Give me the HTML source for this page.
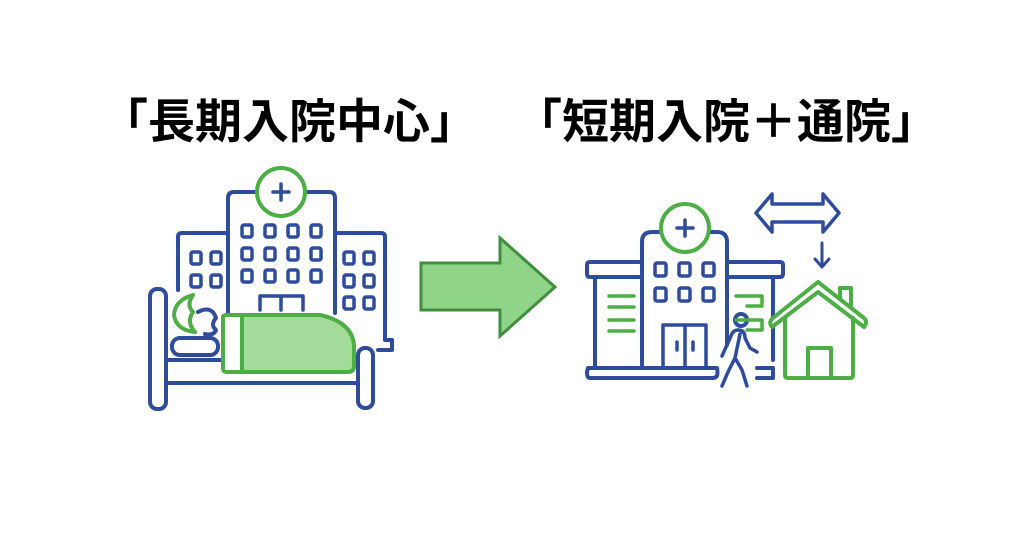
<!DOCTYPE html>
<html><head><meta charset="utf-8"><style>
html,body{margin:0;padding:0;background:#fff;width:1024px;height:536px;overflow:hidden}
.t{position:absolute;font-family:"Liberation Sans","Noto Sans CJK JP",sans-serif;font-weight:bold;font-size:47px;line-height:1;color:#000;white-space:nowrap}
</style></head><body>
<div class="t" style="left:101px;top:98px;">「長期入院中心」</div>
<div class="t" style="left:515px;top:98px;">「短期入院＋通院」</div>
<svg width="1024" height="536" style="position:absolute;left:0;top:0" fill="none" stroke-linecap="round" stroke-linejoin="round">
<g stroke="#2f4b9b" stroke-width="4">
 <!-- left hospital -->
 <path d="M228 313 V198 Q228 192 234 192 H256 M306 192 H329 Q335 192 335 198 V313"/>
 <path d="M178 290 V237 Q178 233 182 233 H228 M335 233 H381 Q385 233 385 237 V340 H392 V350 H378"/>
 <g stroke-width="3.5">
 <rect x="242" y="225" width="10" height="12" rx="2"/><rect x="265" y="225" width="10" height="12" rx="2"/><rect x="288" y="225" width="10" height="12" rx="2"/><rect x="311" y="225" width="10" height="12" rx="2"/>
 <rect x="242" y="248" width="10" height="12" rx="2"/><rect x="265" y="248" width="10" height="12" rx="2"/><rect x="288" y="248" width="10" height="12" rx="2"/><rect x="311" y="248" width="10" height="12" rx="2"/>
 <rect x="242" y="270" width="10" height="12" rx="2"/><rect x="265" y="270" width="10" height="12" rx="2"/><rect x="288" y="270" width="10" height="12" rx="2"/><rect x="311" y="270" width="10" height="12" rx="2"/>
 <rect x="191" y="252" width="10" height="12" rx="2"/><rect x="211" y="252" width="10" height="12" rx="2"/>
 <rect x="191" y="275" width="10" height="12" rx="2"/><rect x="211" y="275" width="10" height="12" rx="2"/>
 <rect x="344" y="252" width="10" height="12" rx="2"/><rect x="364" y="252" width="10" height="12" rx="2"/>
 <rect x="344" y="275" width="10" height="12" rx="2"/><rect x="364" y="275" width="10" height="12" rx="2"/>
 <rect x="344" y="297" width="10" height="12" rx="2"/><rect x="364" y="297" width="10" height="12" rx="2"/>
 <path d="M260 310 V296 H303 V310 M281 296 V310"/>
 </g>
 <!-- bed -->
 <rect x="150" y="289" width="16" height="120" rx="7" fill="#fff"/>
 <rect x="358" y="348" width="15" height="60" rx="7" fill="#fff"/>
 <path d="M166 360 H358 M166 383 H358"/>
 <rect x="172" y="338" width="46" height="17" rx="8" fill="#fff"/>
 <path d="M198 312 Q212 305 216 318 Q210 325 216 330 Q214 336 205 334"/>
</g>
<g stroke="#4cae45" stroke-width="4">
 <circle cx="281" cy="192" r="24" fill="#fff"/>
 <path d="M223 318 Q223 315 226 315 H320 Q352 322 354 345 V366 Q354 372 348 372 H227 Q223 372 223 368 Z" fill="#a3dc9a"/>
 <rect x="225" y="317" width="16" height="53" fill="#fff" stroke="none"/>
 <path d="M242 316 V371"/>
 <path d="M193 295 Q175 300 174 315 Q176 330 195 332 Q186 322 193 312 Q186 305 193 295"/>
</g>
<!-- arrow -->
<path d="M421 263 H500 V238 L555 287 L500 336 V310 H421 Z" fill="#8fd488" stroke="#3f8f3c" stroke-width="3" stroke-linejoin="miter"/>
<!-- right -->
<g stroke="#2f4b9b" stroke-width="4">
 <path d="M642 367 V242 Q642 232 652 232 H661 M709 232 H717 Q727 232 727 242 V345"/>
 <path d="M642 262 H590 Q587 262 587 265 V274 Q587 277 590 277 H642 M727 262 H780 Q783 262 783 265 V274 Q783 277 780 277 H727"/>
 <path d="M642 277 H595 V367 M773 277 V360"/>
 <path d="M588 368 H717 Q719 378 713 378 H590 Q587 378 587 372 Z"/>
 <path d="M757 368 H773 V378 H757"/>
 <g stroke-width="3.5">
 <rect x="655" y="263" width="11" height="13" rx="2"/><rect x="679" y="263" width="11" height="13" rx="2"/><rect x="703" y="263" width="11" height="13" rx="2"/>
 <rect x="655" y="288" width="11" height="13" rx="2"/><rect x="679" y="288" width="11" height="13" rx="2"/><rect x="703" y="288" width="11" height="13" rx="2"/>
 <path d="M663 367 V325 H706 V367 M685 325 V367 M677 342 V350 M693 342 V350"/>
 </g>
 <!-- walker -->
 <circle cx="741" cy="320" r="6" fill="#fff"/>
 <path d="M738 330 Q733 330 731 336 L722 356 M738 330 Q745 330 745 338 L750 348 L757 352 M740 334 L735 358 L728 372 L722 386 M735 358 L742 370 L747 386" stroke-width="3.5"/>
 <!-- double arrow -->
 <path d="M772 194 L756 213 L772 232 V222 H823 V232 L839 213 L823 194 V204 H772 Z" stroke-width="3.5"/>
 <path d="M822 243 V266 M815 259 L822 267 L829 259" stroke-width="3"/>
</g>
<g stroke="#4cae45" stroke-width="4">
 <circle cx="685" cy="228" r="24" fill="#fff"/>
 <path d="M609 296 H634 M609 307 H634 M609 320 H634 M609 331 H634" stroke-width="3.5"/>
 <path d="M736 296 H762 V304 M747 306 H762 M736 320 H762 V330 M747 330 H762" stroke-width="3.5"/>
 <path d="M772 327 Q768 322 773 318 L818 282 L864 318 Q868 322 864 327 L818 292 Z" fill="#fff"/>
 <path d="M785 318 V375 Q785 378 788 378 H850 Q853 378 853 375 V318"/>
 <path d="M840 299 V288 H851 V307"/>
 <path d="M808 378 V348 H831 V378"/>
</g>
<g stroke="#2f4b9b" stroke-width="3.5"><path d="M273 192 H289 M281 184 V200 M677 228 H693 M685 220 V236"/></g>
</svg>
</body></html>
